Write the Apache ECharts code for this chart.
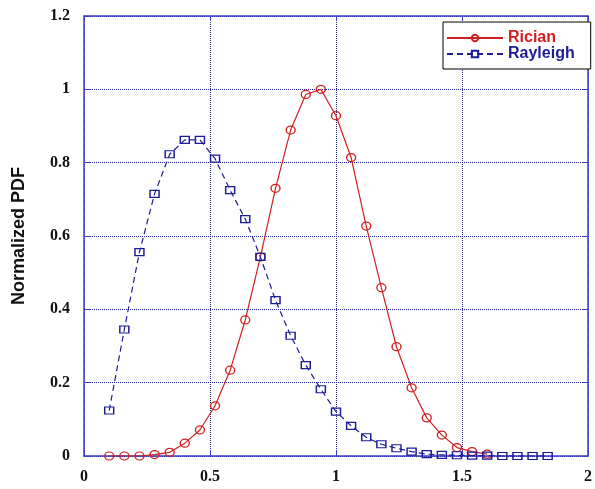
<!DOCTYPE html>
<html>
<head>
<meta charset="utf-8">
<script src="https://cdn.jsdelivr.net/npm/echarts@6/dist/echarts.min.js"></script>
<style>
html,body{margin:0;padding:0;background:#fff;}
#c{width:595px;height:489px;}
</style>
</head>
<body>
<div id="c"></div>
<script>
var xValues = [0.10,0.16,0.22,0.28,0.34,0.40,0.46,0.52,0.58,0.64,0.70,0.76,0.82,0.88,0.94,1.00,1.06,1.12,1.18,1.24,1.30,1.36,1.42,1.48,1.54,1.60,1.66,1.72,1.78,1.84];
var ricianValues = [0,0,0,0.004,0.010,0.035,0.071,0.137,0.234,0.371,0.543,0.730,0.889,0.986,1.000,0.928,0.814,0.627,0.459,0.298,0.186,0.104,0.057,0.023,0.012,0.005];
var rayleighValues = [0.124,0.345,0.556,0.715,0.823,0.862,0.862,0.811,0.725,0.646,0.543,0.425,0.328,0.248,0.182,0.121,0.082,0.051,0.032,0.021,0.012,0.005,0.003,0.002,0.001,0.001,0,0,0,0];
var seriesNames = ['Rician', 'Rayleigh'];
var yAxisTitle = 'Normalized PDF';

function pairs(xs, ys) {
  var out = [];
  for (var i = 0; i < ys.length; i++) out.push([xs[i], ys[i]]);
  return out;
}

var RED = '#d02020';
var NAVY = '#1c1c96';
var FRAME = '#3c3cc8';
var GRID = '#20208a';

var chart = echarts.init(document.getElementById('c'), null, {renderer: 'canvas'});
var tickFont = {fontFamily: 'Liberation Serif', fontWeight: 'bold', fontSize: 16, color: '#111'};

chart.setOption({
  backgroundColor: '#ffffff',
  animation: false,
  grid: {left: 84, right: 3, top: 16, bottom: 33, containLabel: false},
  legend: {
    left: 443, top: 22, orient: 'vertical',
    backgroundColor: '#ffffff', borderColor: '#000', borderWidth: 1,
    padding: [8, 16, 7, 3], itemGap: 0,
    itemWidth: 56, itemHeight: 8,
    textStyle: {fontFamily: 'Liberation Sans', fontWeight: 'bold', fontSize: 16, lineHeight: 15},
    data: [
      {name: seriesNames[0], textStyle: {color: RED}},
      {name: seriesNames[1], textStyle: {color: NAVY}}
    ]
  },
  xAxis: [{
    type: 'value', min: 0, max: 2, interval: 0.5, position: 'bottom',
    axisLine: {show: true, onZero: false, lineStyle: {color: FRAME, width: 1.5}},
    axisTick: {show: true, inside: true, length: 6, lineStyle: {color: FRAME}},
    axisLabel: Object.assign({margin: 13}, tickFont),
    splitLine: {show: true, lineStyle: {color: GRID, type: 'dotted', width: 1}}
  }, {
    type: 'value', min: 0, max: 2, interval: 0.5, position: 'top',
    axisLine: {show: true, onZero: false, lineStyle: {color: FRAME, width: 1.5}},
    axisTick: {show: true, inside: true, length: 5, lineStyle: {color: FRAME}},
    axisLabel: {show: false}, splitLine: {show: false}
  }],
  yAxis: [{
    type: 'value', min: 0, max: 1.2, interval: 0.2, position: 'left',
    name: yAxisTitle, nameLocation: 'middle', nameGap: 56,
    nameTextStyle: {fontFamily: 'Liberation Sans', fontWeight: 'bold', fontSize: 18, color: '#111'},
    axisLine: {show: true, onZero: false, lineStyle: {color: FRAME, width: 1.5}},
    axisTick: {show: true, inside: true, length: 7, lineStyle: {color: FRAME}},
    axisLabel: Object.assign({margin: 14}, tickFont),
    splitLine: {show: true, lineStyle: {color: GRID, type: 'dotted', width: 1}}
  }, {
    type: 'value', min: 0, max: 1.2, interval: 0.2, position: 'right',
    axisLine: {show: true, onZero: false, lineStyle: {color: FRAME, width: 1.5}},
    axisTick: {show: true, inside: true, length: 5, lineStyle: {color: FRAME}},
    axisLabel: {show: false}, splitLine: {show: false}
  }],
  series: [{
    name: seriesNames[0], type: 'line', xAxisIndex: 0, yAxisIndex: 0,
    data: pairs(xValues, ricianValues),
    symbol: 'circle', symbolSize: [9, 8],
    lineStyle: {color: RED, width: 1.2, type: 'solid'},
    itemStyle: {color: 'rgba(255,255,255,0)', borderColor: RED, borderWidth: 1.3},
    z: 2
  }, {
    name: seriesNames[1], type: 'line', xAxisIndex: 0, yAxisIndex: 0,
    data: pairs(xValues, rayleighValues),
    symbol: 'rect', symbolSize: [9, 7],
    lineStyle: {color: NAVY, width: 1.2, type: [6, 4]},
    itemStyle: {color: 'rgba(255,255,255,0)', borderColor: NAVY, borderWidth: 1.3},
    z: 3
  }]
});
</script>
</body>
</html>
